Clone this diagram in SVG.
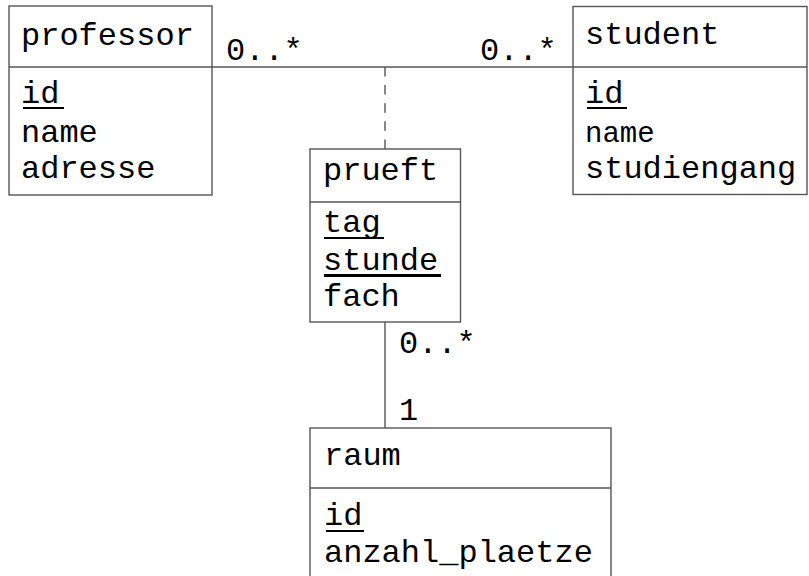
<svg xmlns="http://www.w3.org/2000/svg" width="809" height="576" viewBox="0 0 809 576">
<style>
  .box { fill: #ffffff; stroke: #555555; stroke-width: 1.4; }
  .div { stroke: #555555; stroke-width: 1.4; }
  .t { font-family: "Liberation Mono", "Courier New", monospace; font-size: 32px; fill: #000000; }
  .ul { stroke: #000000; stroke-width: 2.2; }
  .conn { stroke: #555555; stroke-width: 1.4; fill: none; }
  .dash { stroke-dasharray: 9.5 8.6; }
</style>
<rect width="809" height="576" fill="#ffffff"/>
<g id="connectors">
  <line class="conn" x1="212" y1="67" x2="573" y2="67"/>
  <line class="conn dash" x1="385" y1="67" x2="385" y2="149"/>
  <line class="conn" x1="385" y1="322" x2="385" y2="428"/>
  <text class="t" x="226" y="60">0..*</text>
  <text class="t" x="480" y="60">0..*</text>
  <text class="t" x="399" y="353">0..*</text>
  <text class="t" x="399" y="420">1</text>
</g>
<g id="professor">
  <rect class="box" x="9" y="6" width="203" height="189"/>
  <line class="div" x1="9" y1="67" x2="212" y2="67"/>
  <text class="t" x="21" y="45">professor</text>
  <text class="t" x="21" y="103">id</text>
  <line class="ul" x1="23" y1="108" x2="64" y2="108"/>
  <text class="t" x="21" y="142">name</text>
  <text class="t" x="21" y="178">adresse</text>
</g>
<g id="student">
  <rect class="box" x="573" y="6.5" width="234" height="188"/>
  <line class="div" x1="573" y1="67" x2="807" y2="67"/>
  <text class="t" x="585" y="44">student</text>
  <text class="t" x="585" y="103">id</text>
  <line class="ul" x1="587" y1="108" x2="627" y2="108"/>
  <text class="t" x="585" y="142" style="font-size:29px">name</text>
  <text class="t" x="585" y="178">studiengang</text>
</g>
<g id="prueft">
  <rect class="box" x="310" y="149" width="150.5" height="173"/>
  <line class="div" x1="310" y1="202" x2="460.5" y2="202"/>
  <text class="t" x="323" y="180">prueft</text>
  <text class="t" x="323" y="232">tag</text>
  <line class="ul" x1="324" y1="238" x2="384" y2="238"/>
  <text class="t" x="323" y="270">stunde</text>
  <line class="ul" x1="324" y1="275.5" x2="441" y2="275.5" style="stroke-width:3"/>
  <text class="t" x="323" y="306">fach</text>
</g>
<g id="raum">
  <rect class="box" x="310" y="428" width="301" height="152"/>
  <line class="div" x1="310" y1="488" x2="611" y2="488"/>
  <text class="t" x="324" y="465">raum</text>
  <text class="t" x="324" y="525">id</text>
  <line class="ul" x1="326" y1="531" x2="364" y2="531"/>
  <text class="t" x="324" y="562">anzahl_plaetze</text>
</g>
</svg>
